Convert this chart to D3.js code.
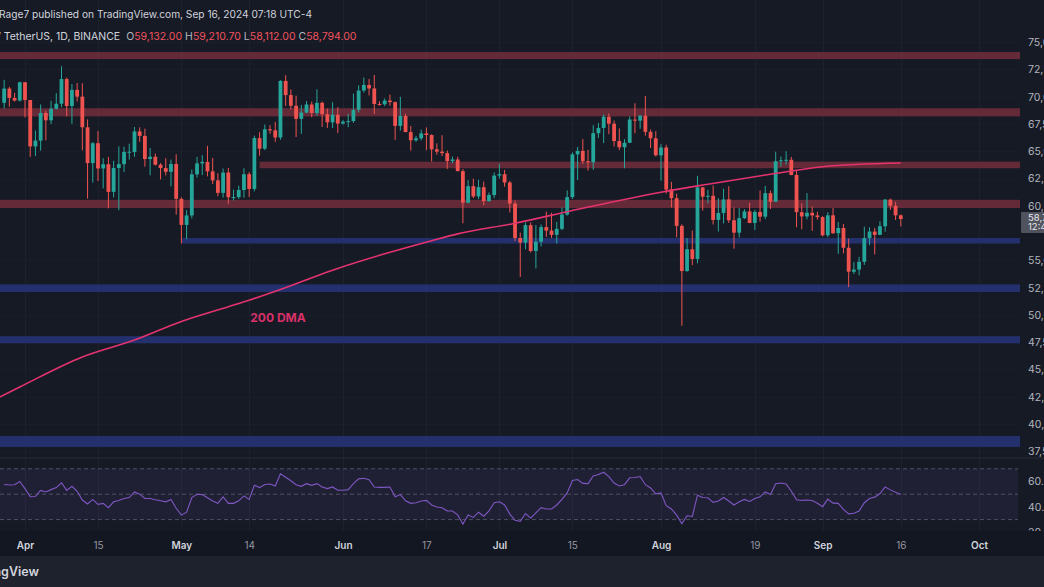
<!DOCTYPE html>
<html><head><meta charset="utf-8">
<script src="https://cdn.jsdelivr.net/npm/d3@7"></script>
<style>
html,body{margin:0;padding:0;background:#151924;overflow:hidden}
svg{display:block;font-family:Inter,"Noto Sans",sans-serif}
</style></head><body>
<svg id="c" width="1044" height="587"></svg>
<script>
// ---------- DATA ----------
const firstDay = "2024-03-28";
const open = [69450,70750,69890,69650,71330,69700,65450,65980,68510,67840,68900,69360,71620,69150,70630,70010,67200,63920,65740,63430,63810,61280,63470,63820,64940,64940,66820,66410,64290,64500,63770,63460,63120,63840,60640,58250,59120,62890,63890,64030,63160,62330,61190,63050,60790,60800,61450,62900,61550,66210,65240,67020,66920,66270,71450,70150,69170,67970,68550,69290,68510,69440,68400,67650,68350,67540,67710,67770,68800,70570,71080,70760,69340,69310,69650,69510,67330,68240,66760,66010,66190,66640,66490,65180,64970,64830,64100,64250,63180,60280,61800,60860,61710,60430,60990,62770,62900,62140,60210,57050,56630,58230,55860,56710,58050,57730,57340,57890,59200,60800,64720,65040,64090,63990,66660,67140,68170,67530,65940,65370,65780,67910,67810,68260,66780,66190,64630,65350,61500,60700,58160,54020,56020,55130,61690,60840,60920,58710,59350,60590,58680,57540,58870,59490,58430,59440,59010,61160,60380,64090,64180,64220,62830,59420,59030,59360,59120,58970,57300,59130,57490,57970,56160,53960,54160,54870,57040,57640,57340,58130,60570,60000,59132];
const high = [71550,70910,70360,71370,71340,69710,66910,69290,68730,69630,70330,72800,71760,71170,71260,71230,67930,65840,66870,64370,64490,64130,65450,65420,65700,67230,67200,67080,65300,64790,63920,64360,64230,64730,60780,59600,63320,64490,64650,65500,64390,62990,63420,63470,61490,61850,63450,63100,66440,66750,67450,67400,67700,71520,71980,70670,70100,69250,69610,69560,70690,69560,68900,69500,69040,67860,68440,70290,71060,71760,71630,72000,69580,69850,70200,69560,70000,68450,67320,66400,66980,67190,66560,65730,66480,65070,64520,64490,63370,62360,62490,62390,62230,61220,63060,63860,63290,62290,60500,57550,58480,58480,58240,58300,59470,59360,58530,59850,61420,64900,65390,66130,65130,67390,67600,68370,68480,67820,67100,66110,68200,69400,68320,70080,67000,66850,65660,65600,62200,61120,58310,57040,57740,62750,61740,61470,61860,60710,61580,61800,59850,59820,59700,60280,59620,61400,61820,61400,64960,64520,65000,64480,63210,60230,61170,59940,59460,59050,59430,59810,58520,58330,57000,54850,55320,58090,58040,57980,58590,60630,60660,60380,59211];
const low = [68920,69080,69570,69560,68110,64490,64560,65060,66010,67490,68820,69040,68210,67520,69570,65090,60660,62130,62270,61600,59770,60780,59600,63090,64240,64500,65860,63590,62800,63700,62420,62790,61790,59190,56550,56940,58850,62600,62820,62700,62000,60880,60750,60190,60490,60630,60750,60810,61330,64600,65110,66600,65860,66060,69160,68830,66310,66600,68500,68130,68250,67230,67130,67130,66670,67450,67210,67610,68570,70380,70120,68420,69180,69130,69170,66050,66900,66760,65060,65870,66000,65100,64070,64690,64560,63380,63910,63180,58400,60240,60710,60610,60060,60380,60710,62500,61750,59400,56770,53490,56020,55720,54260,56290,57160,57050,56540,57760,59100,60630,62370,63850,63240,63300,66220,65750,66570,65440,65110,63440,65750,66650,67070,66430,65300,64530,62300,61130,59850,57120,49000,53960,54560,54730,59570,60240,58290,57640,58390,58430,56080,57100,58790,58410,57790,58550,58780,59720,60350,63590,63780,62800,58030,57860,58760,57700,58740,57200,57130,57420,55610,55640,52550,53750,53630,54590,56390,55550,57320,57630,59640,58700,58112];
const close = [70750,69890,69650,71330,69700,65450,65980,68510,67840,68900,69360,71620,69150,70630,70010,67200,63920,65740,63430,63810,61280,63470,63820,64940,64960,66820,66410,64290,64500,63770,63460,63120,63840,60640,58250,59120,62890,63890,64030,63160,62330,61190,63050,60790,60800,61450,62900,61550,66210,65240,67020,66920,66270,71450,70150,69170,67970,68550,69290,68510,69440,68400,67650,68350,67540,67710,67770,68800,70570,71080,70760,69340,69310,69650,69510,67330,68240,66760,66010,66190,66640,66490,65180,64970,64830,64100,64250,63180,60280,61800,60860,61710,60430,60990,62770,62900,62140,60210,57050,56630,58230,55860,56710,58050,57730,57340,57890,59200,60800,64720,65040,64090,63990,66660,67140,68170,67530,65940,65370,65780,67910,67810,68260,66780,66190,64630,65350,61500,60700,58160,54020,56020,55130,61690,60840,60920,58710,59350,60590,58680,57540,58870,59490,58430,59440,59010,61160,60380,64090,64180,64220,62830,59420,59030,59360,59120,58970,57300,59130,57490,57970,56160,53960,54160,54870,57040,57640,57340,58130,60570,60000,59130,58794];
const rsi = [57.7,57.2,57.5,60,54.4,48,48.2,53,51.8,53.6,55.2,59,53,56.2,52.3,45.4,42.3,45.9,42,42.8,39.4,44,45.1,46.6,47.4,51.8,50,46.6,46.6,45.6,44.8,44,45.9,38.9,33.5,35.8,47.4,50,49.7,47.2,44.6,42.8,47.9,42.8,42.8,44.8,48.7,45.9,57,55.2,57.7,58,56.5,66,63.4,60.6,57.5,56.2,58.3,57,58.3,55.7,54.4,55.7,53.1,53.1,53.6,58.3,62.1,62.6,61.4,55.7,55.4,55.4,55.7,48,49.7,44.8,42.8,43.3,44.6,45.1,41.5,39.9,39.4,36.8,36.8,33.7,26.5,33.7,31.7,35.8,32.7,36.8,43.3,44,41.5,34.3,29.4,28.6,34.8,31.2,35.3,39.4,38.4,38.4,41.5,45.9,51,60.8,61.6,58.5,58.3,64.4,65.5,67.3,63.9,58.8,56.5,57.5,62.9,63.2,63.9,57.5,54.9,50.3,51,41,38.4,33.5,26.8,33,32.5,49.2,47.4,47.2,43.6,44.6,47.4,44.6,41.5,44,45.9,44.3,46.6,47.9,51.8,49.7,58.3,58.8,58,52.3,45.6,45.1,45.4,45.1,42.8,40.2,46.1,43,42.8,38.1,34.5,35,36.8,43.3,46.6,47.7,50.5,55.7,53.4,51.5,50];
const dmaDates = ["2024-03-27","2024-03-31","2024-04-12","2024-04-22","2024-05-01","2024-05-10","2024-05-14","2024-05-20","2024-05-30","2024-06-09","2024-06-18","2024-06-23","2024-07-04","2024-07-15","2024-08-01","2024-08-10","2024-08-22","2024-09-01","2024-09-16"];
const dmaValues = [42450,43400,46150,47700,49400,50750,51350,52330,54100,55600,56800,57430,58400,59570,61250,61980,62900,63590,63930];
const resistanceZones = [[73450,74100],[68200,68950],[63450,64050],[59800,60550]];
const resistanceStart = ["2024-03-01","2024-03-01","2024-05-16","2024-03-01"];
const supportZones = [[56550,57050],[52100,52800],[47400,48050],[37900,38900]];
const supportStart = ["2024-05-01","2024-03-01","2024-03-01","2024-03-01"];
const priceTicks = [37500,40000,42500,45000,47500,50000,52500,55000,60000,62500,65000,67500,70000,72500,75000];
const rsiTicks = [60,40,20];
const rsiLevels = [70,50,30];
const timeTicks = ["2024-04-01","2024-04-15","2024-05-01","2024-05-14","2024-06-01","2024-06-17","2024-07-01","2024-07-15","2024-08-01","2024-08-19","2024-09-01","2024-09-16","2024-10-01"];
const timeTickLabels = ["Apr","15","May","14","Jun","17","Jul","15","Aug","19","Sep","16","Oct"];
const monthTick = [true,false,true,false,true,false,true,false,true,false,true,false,true];

// ---------- LAYOUT ----------
const W = 1044, H = 587, paneR = 1020;
const mainTop = 0, mainBot = 457, rsiTop = 459, rsiBot = 531, axisBot = 556;
const parse = d3.utcParse("%Y-%m-%d");
const x = d3.scaleUtc().domain([parse("2024-04-01"), parse("2024-10-01")]).range([25, 979]);
const y = d3.scaleLinear().domain([37500, 75000]).range([451.3, 42.2]);
const yR = d3.scaleLinear().domain([30, 70]).range([519.6, 468.8]);
const day0 = parse(firstDay);
const candles = close.map((c, i) => ({date: d3.utcDay.offset(day0, i), o: open[i], h: high[i], l: low[i], c: c}));

const UP = "#26a69a", DOWN = "#ef5350";
const svg = d3.select("#c");
svg.append("rect").attr("width", W).attr("height", H).attr("fill", "#161a25");

const defs = svg.append("defs");
defs.append("clipPath").attr("id", "mainClip").append("rect").attr("x", 0).attr("y", mainTop).attr("width", paneR).attr("height", mainBot - mainTop);
defs.append("clipPath").attr("id", "rsiClip").append("rect").attr("x", 0).attr("y", rsiTop).attr("width", paneR).attr("height", rsiBot - rsiTop);

// grid
const grid = svg.append("g");
grid.selectAll(".vg").data(timeTicks).join("line")
  .attr("x1", d => Math.round(x(parse(d))) + 0.5).attr("x2", d => Math.round(x(parse(d))) + 0.5)
  .attr("y1", 0).attr("y2", rsiBot).attr("stroke", "#1d212d").attr("stroke-width", 1);
grid.selectAll(".hg").data(priceTicks).join("line")
  .attr("x1", 0).attr("x2", paneR).attr("y1", d => Math.round(y(d)) + 0.5).attr("y2", d => Math.round(y(d)) + 0.5)
  .attr("stroke", "#1a1e2a").attr("stroke-width", 1);

// main pane
const main = svg.append("g").attr("clip-path", "url(#mainClip)");
main.selectAll(".rz").data(resistanceZones).join("rect")
  .attr("x", (d, i) => Math.max(0, x(parse(resistanceStart[i])))).attr("width", (d, i) => paneR - Math.max(0, x(parse(resistanceStart[i]))))
  .attr("y", d => y(d[1])).attr("height", d => y(d[0]) - y(d[1])).attr("fill", "#6b2b3a").attr("opacity", 0.92);
main.selectAll(".sz").data(supportZones).join("rect")
  .attr("x", (d, i) => Math.max(0, x(parse(supportStart[i])))).attr("width", (d, i) => paneR - Math.max(0, x(parse(supportStart[i]))))
  .attr("y", d => y(d[1])).attr("height", d => y(d[0]) - y(d[1])).attr("fill", "#243171").attr("opacity", 0.95);

const cg = main.append("g");
cg.selectAll(".wick").data(candles).join("rect")
  .attr("x", d => x(d.date) - 0.5).attr("width", 1)
  .attr("y", d => y(d.h)).attr("height", d => y(d.l) - y(d.h))
  .attr("fill", d => d.c >= d.o ? UP : DOWN);
const bw = 3.8;
cg.selectAll(".body").data(candles).join("rect")
  .attr("x", d => x(d.date) - bw / 2).attr("width", bw)
  .attr("y", d => y(Math.max(d.o, d.c))).attr("height", d => Math.max(1, Math.abs(y(d.o) - y(d.c))))
  .attr("fill", d => d.c >= d.o ? UP : DOWN);

const dma = dmaDates.map((d, i) => [parse(d), dmaValues[i]]);
main.append("path").datum(dma)
  .attr("d", d3.line().x(d => x(d[0])).y(d => y(d[1])).curve(d3.curveMonotoneX))
  .attr("fill", "none").attr("stroke", "#e5336f").attr("stroke-width", 1.6);
main.append("text").attr("x", 278).attr("y", 321.5).attr("text-anchor", "middle")
  .attr("font-size", 12).attr("font-weight", 700).attr("fill", "#d93068").text("200 DMA");

// separator
svg.append("line").attr("x1", 0).attr("x2", W).attr("y1", 458).attr("y2", 458).attr("stroke", "#262a36");

// RSI pane
const rp = svg.append("g").attr("clip-path", "url(#rsiClip)");
rp.append("rect").attr("x", 0).attr("width", 1018).attr("y", yR(70)).attr("height", yR(30) - yR(70)).attr("fill", "#7e57c2").attr("opacity", 0.1);
rp.selectAll(".lvl").data(rsiLevels).join("line")
  .attr("x1", 0).attr("x2", 1018).attr("y1", d => yR(d)).attr("y2", d => yR(d))
  .attr("stroke", "#787b86").attr("stroke-opacity", 0.55).attr("stroke-dasharray", "4,3");
rp.append("path").datum(candles.map((c, i) => [c.date, rsi[i]]))
  .attr("d", d3.line().x(d => x(d[0])).y(d => yR(d[1])))
  .attr("fill", "none").attr("stroke", "#7e57c2").attr("stroke-width", 1.1);

// price axis
const pa = svg.append("g").attr("transform", `translate(${paneR},0)`)
  .call(d3.axisRight(y).tickValues(priceTicks).tickFormat(d3.format(",.2f")).tickSize(0).tickPadding(8));
pa.select(".domain").remove();
pa.selectAll("text").attr("fill", "#b2b5be").attr("font-size", 10.5).attr("font-family", "Inter, sans-serif");

const ra = svg.append("g").attr("transform", `translate(${paneR},0)`)
  .call(d3.axisRight(yR).tickValues(rsiTicks).tickFormat(d3.format(".2f")).tickSize(0).tickPadding(8));
ra.select(".domain").remove();
ra.selectAll("text").attr("fill", "#b2b5be").attr("font-size", 10.5).attr("font-family", "Inter, sans-serif");

// last price label
const lastY = y(close[close.length - 1]);
svg.append("rect").attr("x", 1021).attr("y", lastY - 7).attr("width", 30).attr("height", 21).attr("fill", "#50535e").attr("rx", 1);
svg.append("text").attr("x", 1028).attr("y", lastY + 2.5).attr("font-size", 9.5).attr("fill", "#e8e9ed").text("58,794.00");
svg.append("text").attr("x", 1028).attr("y", lastY + 11.5).attr("font-size", 9.5).attr("fill", "#e8e9ed").text("12:41:06");

// time axis band & footer
svg.append("rect").attr("x", 0).attr("y", rsiBot).attr("width", W).attr("height", axisBot - rsiBot).attr("fill", "#131722");
svg.append("rect").attr("x", 0).attr("y", axisBot).attr("width", W).attr("height", H - axisBot).attr("fill", "#1e222d");

const ta = svg.append("g").attr("transform", `translate(0,${rsiBot})`)
  .call(d3.axisBottom(x).tickValues(timeTicks.map(parse)).tickFormat((d, i) => timeTickLabels[i]).tickSize(0).tickPadding(11));
ta.select(".domain").remove();
ta.selectAll("text").attr("font-size", 10).attr("font-family", "Inter, sans-serif")
  .attr("fill", (d, i) => monthTick[i] ? "#d1d4dc" : "#9598a1")
  .attr("font-weight", (d, i) => monthTick[i] ? 600 : 400);

svg.append("text").attr("x", 39).attr("y", 576).attr("text-anchor", "end").attr("font-size", 12.5)
  .attr("font-weight", 600).attr("fill", "#d1d4dc").text("TradingView");

// header
svg.append("text").attr("x", -1).attr("y", 17.5).attr("font-size", 10.2).attr("fill", "#d1d4dc")
  .text("Rage7 published on TradingView.com, Sep 16, 2024 07:18 UTC-4");
const h2 = svg.append("text").attr("x", -3).attr("y", 39.5).attr("font-size", 10.5).attr("fill", "#d1d4dc");
h2.append("tspan").text("/ TetherUS, 1D, BINANCE ");
const ohlcLabels = ["O", "H", "L", "C"];
const ohlcValues = ["59,132.00", "59,210.70", "58,112.00", "58,794.00"];
ohlcLabels.forEach((l, i) => {
  h2.append("tspan").attr("dx", 3).attr("fill", "#b2b5be").text(l);
  h2.append("tspan").attr("fill", "#f0525d").text(ohlcValues[i]);
});
</script></body></html>
